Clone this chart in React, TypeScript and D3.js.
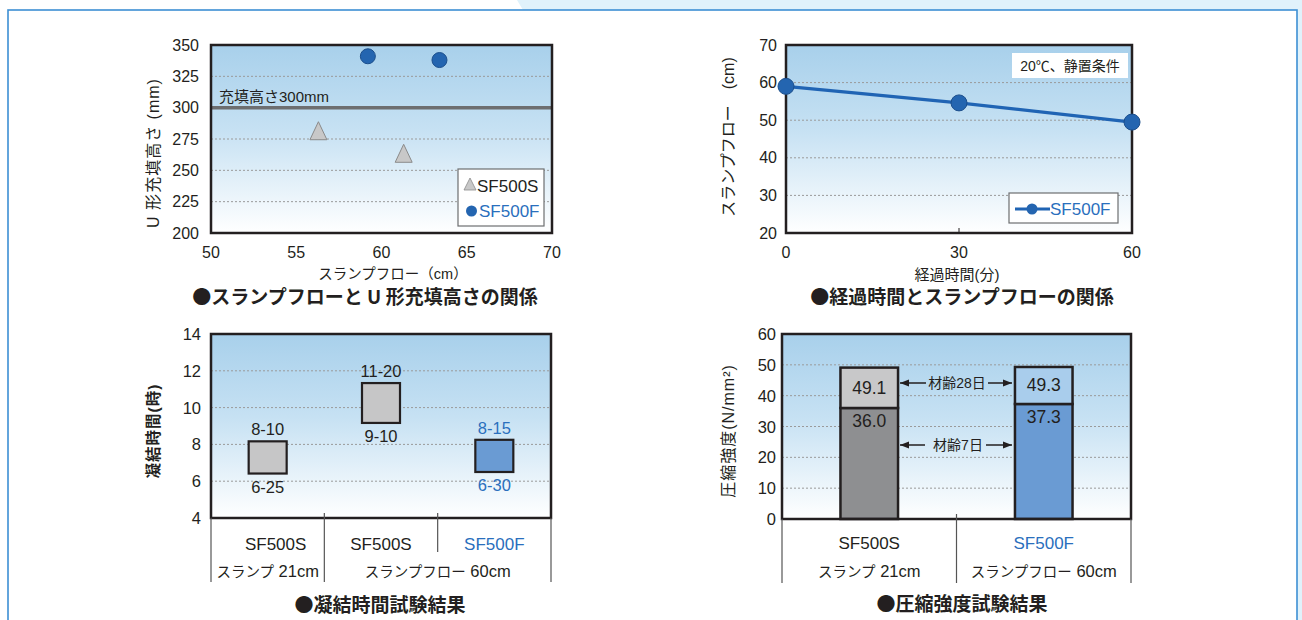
import React from 'react';
import * as d3 from 'd3';

// ---------- Chart 1: slump flow vs U-type filling height ----------
const uFlowS = [56.3, 61.3];
const uHeightS = [280, 262];
const uFlowF = [59.2, 63.4];
const uHeightF = [341, 338];
const uFillHeight = 300;
const uYTicks = [200, 225, 250, 275, 300, 325, 350];
const uXTicks = [50, 55, 60, 65, 70];

// ---------- Chart 2: elapsed time vs slump flow ----------
const elapsedMin = [0, 30, 60];
const flowCm = [59, 54.6, 49.5];
const flowYTicks = [20, 30, 40, 50, 60, 70];
const flowXTicks = [0, 30, 60];

// ---------- Chart 3: setting time ----------
const setProducts = ['SF500S', 'SF500S', 'SF500F'];
const setInitial = ['6-25', '9-10', '6-30'];
const setFinal = ['8-10', '11-20', '8-15'];
const setYTicks = [4, 6, 8, 10, 12, 14];

// ---------- Chart 4: compressive strength ----------
const strProducts = ['SF500S', 'SF500F'];
const strConditions = ['スランプ 21cm', 'スランプフロー 60cm'];
const str7 = [36.0, 37.3];
const str28 = [49.1, 49.3];
const strYTicks = [0, 10, 20, 30, 40, 50, 60];

const FONT = "'Liberation Sans', Arial, 'Noto Sans CJK JP', sans-serif";
const CJK = "'Noto Sans CJK JP', sans-serif";
const TXT = '#231f20';
const BLUE_TXT = '#2a6fbd';
const BORDER = '#231f20';
const GRID = '#9a9a9a';

const hm = (s: string) => {
  const [h, m] = s.split('-').map(Number);
  return h + m / 60;
};

function Plot({ x0, x1, y0, y1 }: { x0: number; x1: number; y0: number; y1: number }) {
  return <rect x={x0} y={y0} width={x1 - x0} height={y1 - y0} fill="url(#plotGrad)" />;
}
function PlotBorder({ x0, x1, y0, y1 }: { x0: number; x1: number; y0: number; y1: number }) {
  return <rect x={x0} y={y0} width={x1 - x0} height={y1 - y0} fill="none" stroke={BORDER} strokeWidth={2.5} />;
}
function Title({ x, y, text }: { x: number; y: number; text: string }) {
  return (
    <text x={x} y={y} textAnchor="middle" fontSize={19} fontWeight="bold" fill={TXT} fontFamily={CJK}>
      {text}
    </text>
  );
}
function Condition({ x, y, text }: { x: number; y: number; text: string }) {
  const [jp, lat] = text.split(' ');
  return (
    <text x={x} y={y} textAnchor="middle" fill={TXT}>
      <tspan fontSize={14.5}>{jp}</tspan>
      <tspan fontSize={16.5}>{' ' + lat}</tspan>
    </text>
  );
}

function Chart1() {
  const x = d3.scaleLinear().domain([50, 70]).range([211, 552]);
  const y = d3.scaleLinear().domain([200, 350]).range([233, 45]);
  const [x0, x1] = x.range();
  const [y1, y0] = y.range();
  const triPath = 'M0,-11 L8.5,7 L-8.5,7 Z';
  return (
    <g>
      <Plot x0={x0} x1={x1} y0={y0} y1={y1} />
      {uYTicks.filter(t => t !== 200 && t !== 350 && t !== uFillHeight).map(t => (
        <line key={t} x1={x0} x2={x1} y1={y(t)} y2={y(t)} stroke={GRID} strokeWidth={1} strokeDasharray="2,2" />
      ))}
      <line x1={x0} x2={x1} y1={y(uFillHeight)} y2={y(uFillHeight)} stroke="#6d6e70" strokeWidth={3.5} />
      <text x={x0 + 8} y={y(uFillHeight) - 6} fontSize={15} fill={TXT}>充填高さ300mm</text>
      {uFlowS.map((v, i) => (
        <path key={'s' + i} d={triPath} transform={`translate(${x(v)},${y(uHeightS[i])})`} fill="#c8c8c8" stroke="#8a8a8a" strokeWidth={1} />
      ))}
      {uFlowF.map((v, i) => (
        <circle key={'f' + i} cx={x(v)} cy={y(uHeightF[i])} r={7.5} fill="#2465b0" stroke="#1b4e8c" strokeWidth={1} />
      ))}
      {/* legend */}
      <rect x={458} y={169} width={86} height={57} fill="#fff" stroke="#6d6e70" strokeWidth={1.2} />
      <path d="M0,-7 L6,5 L-6,5 Z" transform="translate(470,185)" fill="#c8c8c8" stroke="#8a8a8a" strokeWidth={0.8} />
      <text x={477} y={192} fontSize={17} fill={TXT}>SF500S</text>
      <circle cx={471.5} cy={211} r={5.5} fill="#2465b0" />
      <text x={479} y={217} fontSize={17} fill={BLUE_TXT}>SF500F</text>
      <PlotBorder x0={x0} x1={x1} y0={y0} y1={y1} />
      {uYTicks.map(t => (
        <text key={t} x={199} y={y(t)} textAnchor="end" dominantBaseline="central" fontSize={16} fill={TXT}>{t}</text>
      ))}
      {uXTicks.map(t => (
        <text key={t} x={x(t)} y={258} textAnchor="middle" fontSize={16} fill={TXT}>{t}</text>
      ))}
      <text x={393} y={279} textAnchor="middle" fontSize={14.5} fill={TXT}>スランプフロー（cm）</text>
      <text transform="translate(153,153) rotate(-90)" textAnchor="middle" dominantBaseline="central" fontSize={16} letterSpacing={1} fill={TXT}>U 形充填高さ (mm)</text>
      <Title x={365} y={304} text="●スランプフローと U 形充填高さの関係" />
    </g>
  );
}

function Chart2() {
  const x = d3.scaleLinear().domain([0, 60]).range([786, 1132]);
  const y = d3.scaleLinear().domain([20, 70]).range([233, 45]);
  const [x0, x1] = x.range();
  const [y1, y0] = y.range();
  const line = d3.line<number>().x((_, i) => x(elapsedMin[i])).y(d => y(d));
  return (
    <g>
      <Plot x0={x0} x1={x1} y0={y0} y1={y1} />
      {flowYTicks.filter(t => t !== 20 && t !== 70).map(t => (
        <line key={t} x1={x0} x2={x1} y1={y(t)} y2={y(t)} stroke={GRID} strokeWidth={1} strokeDasharray="2,2" />
      ))}
      {flowXTicks.filter(t => t !== 0 && t !== 60).map(t => (
        <line key={t} x1={x(t)} x2={x(t)} y1={y1} y2={y1 - 5} stroke={BORDER} strokeWidth={1} />
      ))}
      <rect x={1012} y={53} width={116} height={25} fill="#fff" />
      <text x={1070} y={66} textAnchor="middle" dominantBaseline="central" fontSize={14} fill={TXT}>20℃、静置条件</text>
      <rect x={1009} y={193} width={109} height={30} fill="#fff" stroke="#6d6e70" strokeWidth={1.2} />
      <line x1={1015} x2={1050} y1={209} y2={209} stroke="#2064b4" strokeWidth={3} />
      <circle cx={1032} cy={209} r={5.5} fill="#2465b0" />
      <text x={1050} y={215} fontSize={17} fill={BLUE_TXT}>SF500F</text>
      <PlotBorder x0={x0} x1={x1} y0={y0} y1={y1} />
      <path d={line(flowCm) || ''} fill="none" stroke="#2064b4" strokeWidth={3.2} />
      {flowCm.map((v, i) => (
        <circle key={i} cx={x(elapsedMin[i])} cy={y(v)} r={8} fill="#2465b0" stroke="#1b4e8c" strokeWidth={1} />
      ))}
      {flowYTicks.map(t => (
        <text key={t} x={777} y={y(t)} textAnchor="end" dominantBaseline="central" fontSize={16} fill={TXT}>{t}</text>
      ))}
      {flowXTicks.map(t => (
        <text key={t} x={x(t)} y={258} textAnchor="middle" fontSize={16} fill={TXT}>{t}</text>
      ))}
      <text x={957} y={280} textAnchor="middle" fontSize={15} fill={TXT}>経過時間(分)</text>
      <text transform="translate(728,137) rotate(-90)" textAnchor="middle" dominantBaseline="central" fontSize={16} fill={TXT}>スランプフロー　(cm)</text>
      <Title x={962} y={304} text="●経過時間とスランプフローの関係" />
    </g>
  );
}

function Chart3() {
  const x = d3.scaleBand<number>().domain(setProducts.map((_, i) => i)).range([211, 551]);
  const y = d3.scaleLinear().domain([4, 14]).range([518, 334]);
  const [x0, x1] = x.range();
  const [y1, y0] = y.range();
  const bw = 38;
  return (
    <g>
      <Plot x0={x0} x1={x1} y0={y0} y1={y1} />
      {setYTicks.filter(t => t !== 4 && t !== 14).map(t => (
        <line key={t} x1={x0} x2={x1} y1={y(t)} y2={y(t)} stroke={GRID} strokeWidth={1} strokeDasharray="2,2" />
      ))}
      {setProducts.map((p, i) => {
        const cx = (x(i) as number) + x.bandwidth() / 2;
        const top = y(hm(setFinal[i]));
        const bot = y(hm(setInitial[i]));
        const isF = p === 'SF500F';
        const col = isF ? BLUE_TXT : TXT;
        return (
          <g key={i}>
            <rect x={cx - bw / 2} y={top} width={bw} height={bot - top} fill={isF ? '#6a9bd3' : '#c6c6c7'} stroke={BORDER} strokeWidth={2.2} />
            <text x={cx} y={top - 12} textAnchor="middle" dominantBaseline="central" fontSize={16.5} fill={col}>{setFinal[i]}</text>
            <text x={cx} y={bot + 13} textAnchor="middle" dominantBaseline="central" fontSize={16.5} fill={col}>{setInitial[i]}</text>
          </g>
        );
      })}
      <PlotBorder x0={x0} x1={x1} y0={y0} y1={y1} />
      {setYTicks.map(t => (
        <text key={t} x={201} y={y(t)} textAnchor="end" dominantBaseline="central" fontSize={16.5} fill={TXT}>{t}</text>
      ))}
      {/* category table */}
      <line x1={x0} x2={x0} y1={y1} y2={582} stroke="#555" strokeWidth={1.2} />
      <line x1={x(1)} x2={x(1)} y1={513} y2={582} stroke="#555" strokeWidth={1.2} />
      <line x1={x(2)} x2={x(2)} y1={513} y2={552} stroke="#555" strokeWidth={1.2} />
      <line x1={x1} x2={x1} y1={y1} y2={582} stroke="#555" strokeWidth={1.2} />
      {setProducts.map((p, i) => (
        <text key={i} x={(x(i) as number) + x.bandwidth() / 2 + (i === 0 ? 8 : 0)} y={550} textAnchor="middle" fontSize={17} fill={p === 'SF500F' ? BLUE_TXT : TXT}>{p}</text>
      ))}
      <Condition x={(x(0) as number) + x.bandwidth() / 2} y={577} text={strConditions[0]} />
      <Condition x={x(2) as number} y={577} text={strConditions[1]} />
      <text transform="translate(153,431) rotate(-90)" textAnchor="middle" dominantBaseline="central" fontSize={15.5} fontWeight="bold" letterSpacing={1} fill={TXT}>凝結時間(時)</text>
      <Title x={380} y={612} text="●凝結時間試験結果" />
    </g>
  );
}

function Arrow({ xa, xb, y, dir }: { xa: number; xb: number; y: number; dir: 'left' | 'right' }) {
  const tip = dir === 'left' ? xa : xb;
  const s = dir === 'left' ? 1 : -1;
  return (
    <g>
      <line x1={xa} x2={xb} y1={y} y2={y} stroke={TXT} strokeWidth={1.5} />
      <path d={`M${tip},${y} L${tip + s * 9},${y - 3.5} L${tip + s * 9},${y + 3.5} Z`} fill={TXT} />
    </g>
  );
}

function Chart4() {
  const x = d3.scaleBand<number>().domain(strProducts.map((_, i) => i)).range([782, 1131]);
  const y = d3.scaleLinear().domain([0, 60]).range([519, 334]);
  const [x0, x1] = x.range();
  const [y1, y0] = y.range();
  const bw = x.bandwidth() * 0.33;
  const dark = ['#8e8f91', '#6a9bd3'];
  const light = ['#c8c8c9', '#a9cdec'];
  return (
    <g>
      <Plot x0={x0} x1={x1} y0={y0} y1={y1} />
      {strYTicks.filter(t => t !== 0 && t !== 60).map(t => (
        <line key={t} x1={x0} x2={x1} y1={y(t)} y2={y(t)} stroke={GRID} strokeWidth={1} strokeDasharray="2,2" />
      ))}
      {strProducts.map((p, i) => {
        const cx = (x(i) as number) + x.bandwidth() / 2;
        return (
          <g key={i}>
            <rect x={cx - bw / 2} y={y(str7[i])} width={bw} height={y(0) - y(str7[i])} fill={dark[i]} stroke={BORDER} strokeWidth={2.5} />
            <rect x={cx - bw / 2} y={y(str28[i])} width={bw} height={y(str7[i]) - y(str28[i])} fill={light[i]} stroke={BORDER} strokeWidth={2.5} />
            <text x={cx} y={y((str7[i] + str28[i]) / 2)} textAnchor="middle" dominantBaseline="central" fontSize={17.5} fill={TXT}>{str28[i].toFixed(1)}</text>
            <text x={cx} y={y(str7[i]) + 13} textAnchor="middle" dominantBaseline="central" fontSize={17.5} fill={TXT}>{str7[i].toFixed(1)}</text>
          </g>
        );
      })}
      <Arrow xa={900} xb={926} y={383} dir="left" />
      <text x={957} y={383} textAnchor="middle" dominantBaseline="central" fontSize={14} fill={TXT}>材齢28日</text>
      <Arrow xa={988} xb={1012} y={383} dir="right" />
      <Arrow xa={900} xb={925} y={445} dir="left" />
      <text x={958} y={445} textAnchor="middle" dominantBaseline="central" fontSize={14} fill={TXT}>材齢7日</text>
      <Arrow xa={986} xb={1012} y={445} dir="right" />
      <PlotBorder x0={x0} x1={x1} y0={y0} y1={y1} />
      {strYTicks.map(t => (
        <text key={t} x={776} y={y(t)} textAnchor="end" dominantBaseline="central" fontSize={16.5} fill={TXT}>{t}</text>
      ))}
      <line x1={x0} x2={x0} y1={y1} y2={583} stroke="#555" strokeWidth={1.2} />
      <line x1={x(1)} x2={x(1)} y1={514} y2={583} stroke="#555" strokeWidth={1.2} />
      <line x1={x1} x2={x1} y1={y1} y2={583} stroke="#555" strokeWidth={1.2} />
      {strProducts.map((p, i) => (
        <g key={i}>
          <text x={(x(i) as number) + x.bandwidth() / 2} y={549} textAnchor="middle" fontSize={17} fill={p === 'SF500F' ? BLUE_TXT : TXT}>{p}</text>
          <Condition x={(x(i) as number) + x.bandwidth() / 2} y={577} text={strConditions[i]} />
        </g>
      ))}
      <text transform="translate(728,431) rotate(-90)" textAnchor="middle" dominantBaseline="central" fontSize={16} letterSpacing={1} fill={TXT}>圧縮強度(N/mm²)</text>
      <Title x={962} y={611} text="●圧縮強度試験結果" />
    </g>
  );
}

export default function App() {
  return (
    <svg width={1302} height={620} style={{ position: 'absolute', left: 0, top: 0 }} fontFamily={FONT}>
      <defs>
        <linearGradient id="plotGrad" x1="0" y1="0" x2="0" y2="1">
          <stop offset="0" stopColor="#a8d0eb" />
          <stop offset="0.45" stopColor="#c6e1f3" />
          <stop offset="1" stopColor="#ffffff" />
        </linearGradient>
      </defs>
      <rect x={0} y={0} width={1302} height={620} fill="#fff" />
      <polygon points="517,0 1302,0 1302,620 1297,620 1297,10 523,10" fill="#e0f2fb" />
      <rect x={8} y={10} width={1289} height={640} fill="#fff" stroke="#3d8fd4" strokeWidth={1.6} />
      <Chart1 />
      <Chart2 />
      <Chart3 />
      <Chart4 />
    </svg>
  );
}
